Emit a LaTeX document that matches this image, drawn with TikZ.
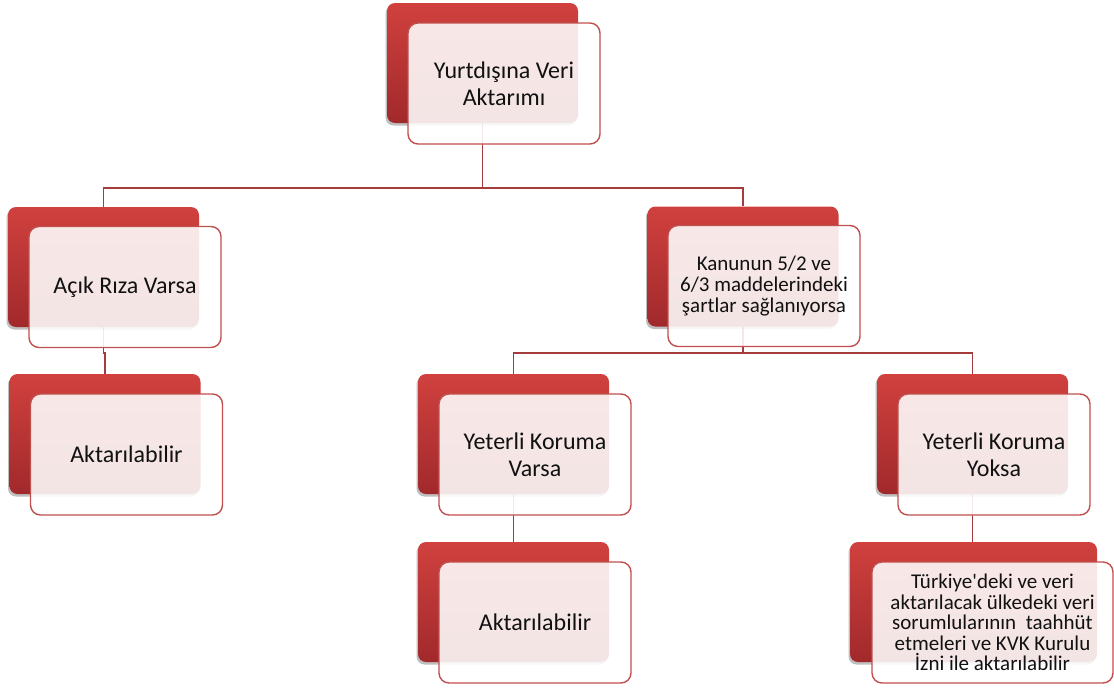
\documentclass[tikz,border=0pt]{standalone}
\usepackage{fontspec}
\setmainfont{Carlito}
\usetikzlibrary{shadows,backgrounds}
\definecolor{backtop}{HTML}{D0413E}
\definecolor{backbot}{HTML}{A1292B}
\definecolor{frontborder}{HTML}{C0504D}
\definecolor{connred}{HTML}{A53C3C}
\definecolor{txt}{HTML}{111111}
\begin{document}
\begin{tikzpicture}[x=1pt,y=-1pt,
  backbox/.style={rectangle, rounded corners=8pt, top color=backtop, bottom color=backbot,
    minimum width=191pt, minimum height=120pt, inner sep=0pt,
    drop shadow={shadow xshift=-1.5pt, shadow yshift=-2.5pt, opacity=0.25, fill=black}},
  frontbox/.style={rectangle, rounded corners=10pt, draw=frontborder, line width=1.4pt,
    fill=white, fill opacity=0.88, text opacity=1, text=txt,
    minimum width=192pt, minimum height=121pt, inner sep=2pt, align=center,
    font=\fontsize{24}{27}\selectfont},
  smalltext/.style={font=\fontsize{21}{21}\selectfont},
  connector/.style={draw=connred, line width=1.8pt}]
\useasboundingbox (0,0) rectangle (1114,691);
% named coordinates for the buses
\coordinate (bus1) at (0,188);
\coordinate (bus2) at (0,353);
% back boxes
\node[backbox] (b0) at (482.5,63) {};
\node[backbox] (b1) at (103.5,267) {};
\node[backbox] (b2) at (743,266.5) {};
\node[backbox] (b3) at (105,434) {};
\node[backbox] (b4) at (513.5,434) {};
\node[backbox] (b5) at (972.5,434) {};
\node[backbox] (b6) at (513.5,602) {};
\node[backbox, minimum width=247pt] (b7) at (973.5,602) {};
% connectors (on background, hidden by back boxes)
\begin{pgfonlayer}{background}
\draw[connector] (b0.south) -- (b0.south |- bus1) -| (b1.north);
\draw[connector] (b0.south |- bus1) -| (b2.north);
\draw[connector] (b1.south) -- (b1.south |- bus2) -| (b3.north);
\draw[connector] (b2.south) -- (b2.south |- bus2) -| (b4.north);
\draw[connector] (b2.south |- bus2) -| (b5.north);
\draw[connector] (b4.south) -- (b6.north);
\draw[connector] (b5.south) -- (b5.south |- b7.north);
\end{pgfonlayer}
% front boxes
\node[frontbox] (f0) at (504,83.5) {Yurtdışına Veri\\Aktarımı};
\node[frontbox] (f1) at (125,287) {Açık Rıza Varsa};
\node[frontbox, smalltext] (f2) at (764,286) {Kanunun 5/2 ve\\6/3 maddelerindeki\\şartlar sağlanıyorsa};
\node[frontbox] (f3) at (126.5,454.5) {Aktarılabilir};
\node[frontbox] (f4) at (535,454.5) {Yeterli Koruma\\Varsa};
\node[frontbox] (f5) at (994,454.5) {Yeterli Koruma\\Yoksa};
\node[frontbox] (f6) at (535,622.5) {Aktarılabilir};
\node[frontbox, font=\fontsize{21}{20.5}\selectfont, minimum width=241pt] (f7) at (992.5,622.5) {Türkiye\textquotesingle deki ve veri\\aktarılacak ülkedeki veri\\sorumlularının\ \ taahhüt\\etmeleri ve KVK Kurulu\\İzni ile aktarılabilir};
\end{tikzpicture}
\end{document}
